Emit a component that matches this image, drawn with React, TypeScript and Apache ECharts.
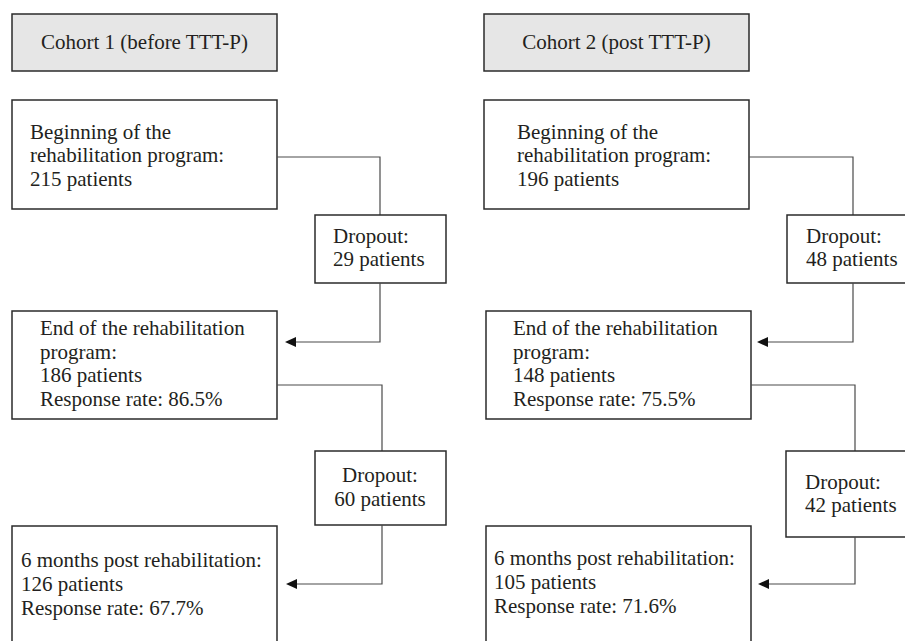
import React, { useEffect, useRef } from "react";
import * as echarts from "echarts";

// ---- Data ----
const cohortTitles = ["Cohort 1 (before TTT-P)", "Cohort 2 (post TTT-P)"];
const startPatients = [215, 196];
const dropoutsDuringProgram = [29, 48];
const endPatients = [186, 148];
const endResponseRates = [86.5, 75.5];
const dropoutsAfterProgram = [60, 42];
const followUpPatients = [126, 105];
const followUpResponseRates = [67.7, 71.6];

// ---- Layout (positions only) ----
const layouts = [
  {
    headerX: 12, beginX: 12, beginTextX: 30, link1X: 380, drop1X: 315, drop1TextX: 333,
    endX: 12, endTextX: 40, link2X: 382, drop2X: 315, drop2Bottom: 525, drop2Center: true, drop2TextX: 380,
    drop2TextY: [475, 499], f6X: 12, f6TextX: 21, arrow1X: 285, arrow2X: 286,
    f6TextY: [560, 584, 608],
  },
  {
    headerX: 484, beginX: 484, beginTextX: 517, link1X: 853, drop1X: 787, drop1TextX: 806,
    endX: 486, endTextX: 513, link2X: 855, drop2X: 786, drop2Bottom: 537, drop2Center: false, drop2TextX: 805,
    drop2TextY: [482, 505], f6X: 486, f6TextX: 494, arrow1X: 757, arrow2X: 758,
    f6TextY: [558, 582, 606],
  },
];

const BOX_W = 265;
const DROP_W = 131;
const FONT = "Liberation Serif, DejaVu Serif, Times New Roman, serif";
const FS = 21;
const TEXT_COLOR = "#231f20";
const BOX_STROKE = "#2b2b2b";
const LINK_STROKE = "#4a4a4a";

function rect(x: number, y: number, w: number, h: number, fill = "#ffffff") {
  return {
    type: "rect",
    shape: { x, y, width: w, height: h },
    style: { fill, stroke: BOX_STROKE, lineWidth: 1.5 },
  };
}

function txt(text: string, x: number, y: number, align: string = "left") {
  return {
    type: "text",
    x,
    y,
    style: {
      text,
      fill: TEXT_COLOR,
      fontFamily: FONT,
      fontSize: FS,
      fontWeight: "normal",
      align,
      verticalAlign: "middle",
    },
  };
}

function poly(points: number[][]) {
  return {
    type: "polyline",
    shape: { points },
    style: { stroke: LINK_STROKE, lineWidth: 1.2, fill: "none" },
  };
}

function arrowHead(x: number, y: number) {
  return {
    type: "polygon",
    shape: { points: [[x, y], [x + 11, y - 5], [x + 11, y + 5]] },
    style: { fill: "#111111", stroke: "none" },
  };
}

function buildElements() {
  const els: any[] = [];
  cohortTitles.forEach((title, i) => {
    const L = layouts[i];
    els.push(rect(L.headerX, 14, BOX_W, 57, "#e6e6e6"));
    els.push(txt(title, L.headerX + BOX_W / 2, 42, "center"));
    els.push(rect(L.beginX, 100, BOX_W, 109));
    els.push(txt("Beginning of the", L.beginTextX, 132));
    els.push(txt("rehabilitation program:", L.beginTextX, 155));
    els.push(txt(`${startPatients[i]} patients`, L.beginTextX, 179));
    els.push(poly([[L.beginX + BOX_W, 157], [L.link1X, 157], [L.link1X, 215]]));
    els.push(rect(L.drop1X, 215, DROP_W, 68));
    els.push(txt("Dropout:", L.drop1TextX, 236));
    els.push(txt(`${dropoutsDuringProgram[i]} patients`, L.drop1TextX, 259));
    els.push(poly([[L.link1X, 283], [L.link1X, 342], [L.arrow1X + 11, 342]]));
    els.push(arrowHead(L.arrow1X, 342));
    els.push(rect(L.endX, 311, BOX_W, 108));
    els.push(txt("End of the rehabilitation", L.endTextX, 328));
    els.push(txt("program:", L.endTextX, 352));
    els.push(txt(`${endPatients[i]} patients`, L.endTextX, 375));
    els.push(txt(`Response rate: ${endResponseRates[i].toFixed(1)}%`, L.endTextX, 399));
    els.push(poly([[L.endX + BOX_W, 385], [L.link2X, 385], [L.link2X, 451]]));
    els.push(rect(L.drop2X, 451, DROP_W, L.drop2Bottom - 451));
    const al = L.drop2Center ? "center" : "left";
    els.push(txt("Dropout:", L.drop2TextX, L.drop2TextY[0], al));
    els.push(txt(`${dropoutsAfterProgram[i]} patients`, L.drop2TextX, L.drop2TextY[1], al));
    els.push(poly([[L.link2X, L.drop2Bottom], [L.link2X, 584], [L.arrow2X + 11, 584]]));
    els.push(arrowHead(L.arrow2X, 584));
    els.push(rect(L.f6X, 526, BOX_W, 130));
    els.push(txt("6 months post rehabilitation:", L.f6TextX, L.f6TextY[0]));
    els.push(txt(`${followUpPatients[i]} patients`, L.f6TextX, L.f6TextY[1]));
    els.push(txt(`Response rate: ${followUpResponseRates[i].toFixed(1)}%`, L.f6TextX, L.f6TextY[2]));
  });
  return els;
}

export default function App() {
  const ref = useRef<HTMLDivElement>(null);
  useEffect(() => {
    if (!ref.current) return;
    const chart = echarts.init(ref.current, undefined, { renderer: "svg" });
    chart.setOption({
      animation: false,
      backgroundColor: "#ffffff",
      textStyle: { fontFamily: FONT },
      graphic: { elements: buildElements() },
    });
    return () => chart.dispose();
  }, []);
  return (
    <div
      ref={ref}
      style={{ position: "fixed", left: 0, top: 0, width: 905, height: 641, background: "#fff" }}
    />
  );
}
